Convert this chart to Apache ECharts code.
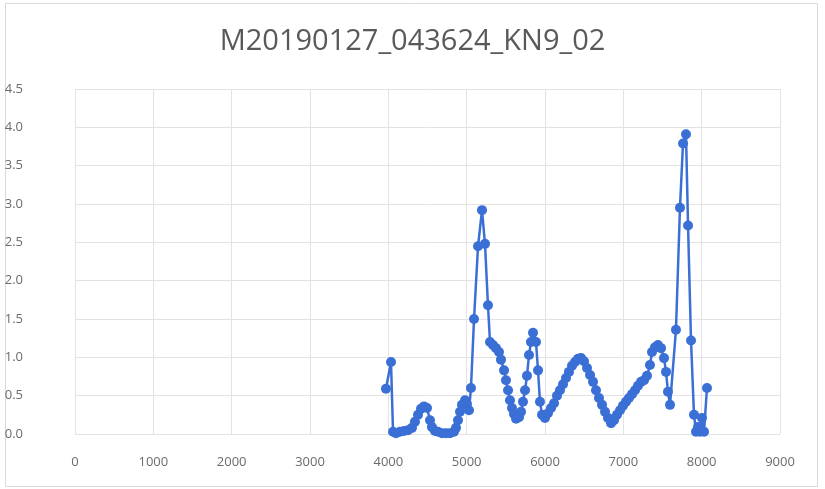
<!DOCTYPE html>
<html>
<head>
<meta charset="utf-8">
<script src="https://cdn.jsdelivr.net/npm/echarts@6/dist/echarts.min.js"></script>
<style>html,body{margin:0;padding:0;background:#fff}#c{width:825px;height:489px}</style>
</head>
<body>
<div id="c"></div>
<script>
const title = "M20190127_043624_KN9_02";
const xTicks = [0,1000,2000,3000,4000,5000,6000,7000,8000,9000];
const yTicks = [0,0.5,1,1.5,2,2.5,3,3.5,4,4.5];
const xValues = [3970,4034,4060,4098,4149,4200,4251,4302,4340,4379,4417,4455,4494,4532,4557,4596,4634,4685,4736,4787,4838,4864,4889,4915,4940,4979,5004,5030,5055,5094,5145,5196,5234,5272,5298,5336,5374,5413,5438,5477,5502,5528,5553,5579,5604,5630,5668,5694,5719,5745,5770,5796,5821,5847,5885,5911,5936,5962,6000,6038,6077,6115,6153,6191,6230,6268,6306,6345,6383,6421,6460,6498,6536,6575,6613,6651,6689,6728,6766,6804,6843,6881,6919,6958,6996,7034,7072,7111,7149,7187,7226,7264,7302,7340,7366,7404,7442,7481,7519,7545,7570,7596,7672,7723,7762,7800,7826,7864,7902,7928,7953,7979,8004,8030,8068];
const yValues = [0.59,0.94,0.03,0.01,0.03,0.04,0.05,0.08,0.16,0.25,0.33,0.36,0.34,0.18,0.09,0.04,0.03,0.01,0.01,0.01,0.03,0.08,0.18,0.29,0.38,0.44,0.39,0.31,0.6,1.5,2.45,2.92,2.48,1.68,1.2,1.16,1.12,1.07,0.97,0.83,0.7,0.57,0.44,0.34,0.26,0.2,0.22,0.29,0.42,0.57,0.76,1.03,1.2,1.32,1.2,0.83,0.42,0.25,0.21,0.27,0.34,0.4,0.5,0.57,0.65,0.73,0.81,0.89,0.94,0.98,0.99,0.95,0.86,0.77,0.68,0.57,0.47,0.38,0.29,0.21,0.14,0.18,0.25,0.31,0.37,0.42,0.47,0.52,0.57,0.63,0.68,0.7,0.76,0.9,1.07,1.13,1.16,1.12,0.99,0.81,0.55,0.38,1.36,2.95,3.79,3.91,2.72,1.22,0.25,0.03,0.09,0.03,0.21,0.03,0.6];
const data = xValues.map((x,i)=>[x,yValues[i]]);
const chart = echarts.init(document.getElementById('c'));
const font = "Open Sans";
chart.setOption({
  animation:false,
  backgroundColor:'#fff',
  title:{text:title,left:'center',top:22,textStyle:{fontFamily:font,fontSize:29,fontWeight:'normal',color:'#595959'}},
  graphic:[{type:'rect',shape:{x:5.5,y:3.5,width:812,height:483},style:{fill:'none',stroke:'#d9d9d9',lineWidth:1}}],
  grid:{left:75,right:45,top:89,bottom:55},
  xAxis:{type:'value',min:xTicks[0],max:xTicks[xTicks.length-1],interval:1000,
    axisLine:{show:false},axisTick:{show:false},
    splitLine:{show:true,lineStyle:{color:'#e3e3e3',width:1}},
    axisLabel:{margin:22,color:'#6b6b6b',fontFamily:font,fontSize:13,formatter:v=>String(v)}},
  yAxis:{type:'value',min:yTicks[0],max:yTicks[yTicks.length-1],interval:0.5,
    axisLine:{show:false},axisTick:{show:false},
    splitLine:{show:true,lineStyle:{color:'#e3e3e3',width:1}},
    axisLabel:{margin:52,color:'#6b6b6b',fontFamily:font,fontSize:13,formatter:v=>v.toFixed(1)}},
  series:[{type:'line',data:data,symbol:'circle',symbolSize:10,
    lineStyle:{color:'#3a6fd6',width:2.5},itemStyle:{color:'#3a6fd6'}}]
});
</script>
</body>
</html>
